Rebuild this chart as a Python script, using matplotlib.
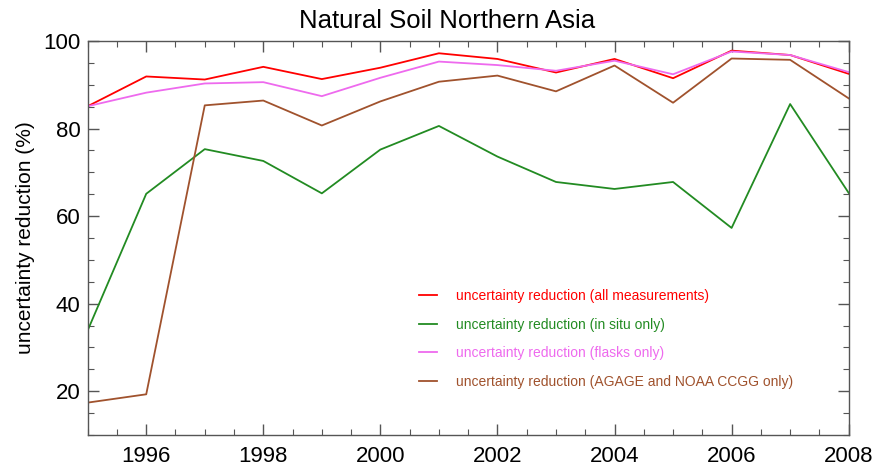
import matplotlib
matplotlib.use("Agg")
import matplotlib.pyplot as plt
from matplotlib.ticker import MultipleLocator

plt.rcParams['font.family'] = ['Liberation Sans', 'DejaVu Sans']

years = list(range(1995, 2009))

# uncertainty reduction (%) per year
all_meas = [85.1, 91.9, 91.2, 94.1, 91.3, 93.9, 97.2, 95.9, 92.8, 95.9, 91.5, 97.8, 96.8, 92.5]
in_situ = [33.9, 65.1, 75.3, 72.6, 65.2, 75.2, 80.6, 73.6, 67.8, 66.2, 67.8, 57.3, 85.6, 65.3]
flasks = [85.1, 88.2, 90.3, 90.6, 87.4, 91.6, 95.3, 94.5, 93.2, 95.5, 92.4, 97.6, 96.8, 92.9]
agage_noaa = [17.4, 19.3, 85.3, 86.4, 80.7, 86.2, 90.7, 92.1, 88.5, 94.4, 85.9, 96.0, 95.7, 86.9]

series = [
    (all_meas, '#ff0000', 'uncertainty reduction (all measurements)'),
    (in_situ, '#228b22', 'uncertainty reduction (in situ only)'),
    (flasks, '#ee6aee', 'uncertainty reduction (flasks only)'),
    (agage_noaa, '#a0522d', 'uncertainty reduction (AGAGE and NOAA CCGG only)'),
]

fig = plt.figure(figsize=(8.76, 4.67), dpi=100)
ax = fig.add_axes([0.1001, 0.0685, 0.8687, 0.8437])

for vals, col, lab in series:
    ax.plot(years, vals, color=col, lw=1.3, label=lab)

ax.set_xlim(1995, 2008)
ax.set_ylim(10, 100)
ax.xaxis.set_major_locator(MultipleLocator(2))
ax.xaxis.set_minor_locator(MultipleLocator(0.5))
ax.yaxis.set_major_locator(MultipleLocator(20))
ax.yaxis.set_minor_locator(MultipleLocator(5))
ax.set_yticks([20, 40, 60, 80, 100])

for s in ax.spines.values():
    s.set_color('#555555')
    s.set_linewidth(1.0)
ax.tick_params(which='both', direction='in', top=True, right=True, color='#555555', labelsize=16)
ax.tick_params(axis='x', pad=8)
ax.tick_params(axis='y', pad=5)
ax.tick_params(which='major', length=8, width=1.0)
ax.tick_params(which='minor', length=4, width=0.8)

ax.set_ylabel('uncertainty reduction (%)', fontsize=15, labelpad=6)

fig.text(0.51, 0.955, 'Natural Soil Northern Asia', fontsize=18.5, ha='center', va='center')

ax.legend(loc='upper left', bbox_to_anchor=(419 / 876, 1 - 289 / 467), bbox_transform=fig.transFigure,
          frameon=False, fontsize=10, labelcolor='linecolor', handlelength=1.3,
          handletextpad=1.35, labelspacing=1.05, borderaxespad=0, borderpad=0)

fig.savefig('out.png', dpi=100)
